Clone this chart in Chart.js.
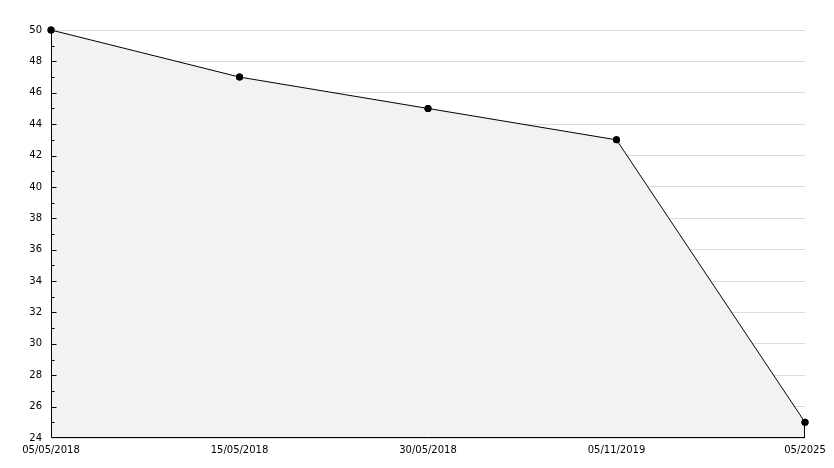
<!DOCTYPE html>
<html lang="en">
<head>
    <meta charset="utf-8" />
    <title>Chart</title>
    <script src="https://cdn.jsdelivr.net/npm/chart.js@4.4.0/dist/chart.umd.min.js"></script>
    <style>
        html, body { margin: 0; padding: 0; background: #fff; }
        #wrap { width: 834px; height: 468px; }
    </style>
</head>
<body>
    <div id="wrap"><canvas id="lineChart" width="834" height="468"></canvas></div>

    <script>
        // data
        var dateLabels = ["05/05/2018", "15/05/2018", "30/05/2018", "05/11/2019", "05/2025"];
        var values = [50, 47, 45, 43, 25];
        var yMin = 24;
        var yMax = 50;

        // axis lines, inner tick marks on the y axis + closing edge of the filled area
        var innerTicks = {
            id: 'innerTicks',
            beforeDatasetsDraw: function (chart) {
                // nothing before, fill covers grid
            },
            afterDatasetsDraw: function (chart) {
                var ctx = chart.ctx;
                var y = chart.scales.y;
                var area = chart.chartArea;
                var left = Math.round(area.left) + 0.5;
                var bottom = Math.round(area.bottom) - 0.5;
                ctx.save();
                ctx.strokeStyle = '#000';
                ctx.lineWidth = 1;
                ctx.beginPath();
                ctx.moveTo(left, area.top);
                ctx.lineTo(left, bottom);
                ctx.lineTo(area.right, bottom);
                for (var v = yMin + 1; v < yMax; v++) {
                    var py = Math.round(y.getPixelForValue(v)) + 0.5;
                    var len = (v % 2 === 0) ? 5 : 3;
                    ctx.moveTo(left, py);
                    ctx.lineTo(left + len, py);
                }
                // right edge of the fill polygon
                var meta = chart.getDatasetMeta(0);
                var last = meta.data[meta.data.length - 1];
                var px = Math.round(last.x) - 0.5;
                ctx.moveTo(px, last.y);
                ctx.lineTo(px, bottom);
                ctx.stroke();
                // redraw the points on top of the axis lines
                meta.data.forEach(function (pt) {
                    ctx.beginPath();
                    ctx.fillStyle = '#000';
                    ctx.arc(pt.x, pt.y, 3.5, 0, Math.PI * 2);
                    ctx.fill();
                });
                ctx.restore();
            }
        };

        var ctx = document.getElementById('lineChart').getContext('2d');
        new Chart(ctx, {
            type: 'line',
            data: {
                labels: dateLabels,
                datasets: [{
                    data: values,
                    borderColor: '#000',
                    borderWidth: 1,
                    backgroundColor: '#f2f2f2',
                    fill: 'start',
                    tension: 0,
                    clip: false,
                    pointRadius: 3.5,
                    pointBackgroundColor: '#000',
                    pointBorderColor: '#000',
                    pointBorderWidth: 0
                }]
            },
            options: {
                responsive: false,
                animation: false,
                layout: {
                    padding: { top: 30, right: 29, left: 0, bottom: 0 }
                },
                plugins: {
                    legend: { display: false },
                    tooltip: { enabled: false }
                },
                scales: {
                    x: {
                        offset: false,
                        grid: { display: false, drawTicks: false },
                        border: { display: false },
                        ticks: {
                            color: '#000',
                            font: { family: 'DejaVu Sans', size: 10 },
                            padding: 6,
                            maxRotation: 0,
                            autoSkip: false
                        },
                        afterFit: function (scale) { scale.height = 30; }
                    },
                    y: {
                        min: yMin,
                        max: yMax,
                        grid: {
                            drawTicks: false,
                            color: function (c) {
                                return (c.tick && c.tick.value % 2 === 0) ? '#dcdcdc' : 'rgba(0,0,0,0)';
                            }
                        },
                        border: { display: false },
                        ticks: {
                            stepSize: 1,
                            autoSkip: false,
                            color: '#000',
                            font: { family: 'DejaVu Sans', size: 10 },
                            padding: 9,
                            callback: function (v) { return v % 2 === 0 ? v : ''; }
                        },
                        afterFit: function (scale) { scale.width = 51; }
                    }
                }
            },
            plugins: [innerTicks]
        });
    </script>
</body>
</html>
